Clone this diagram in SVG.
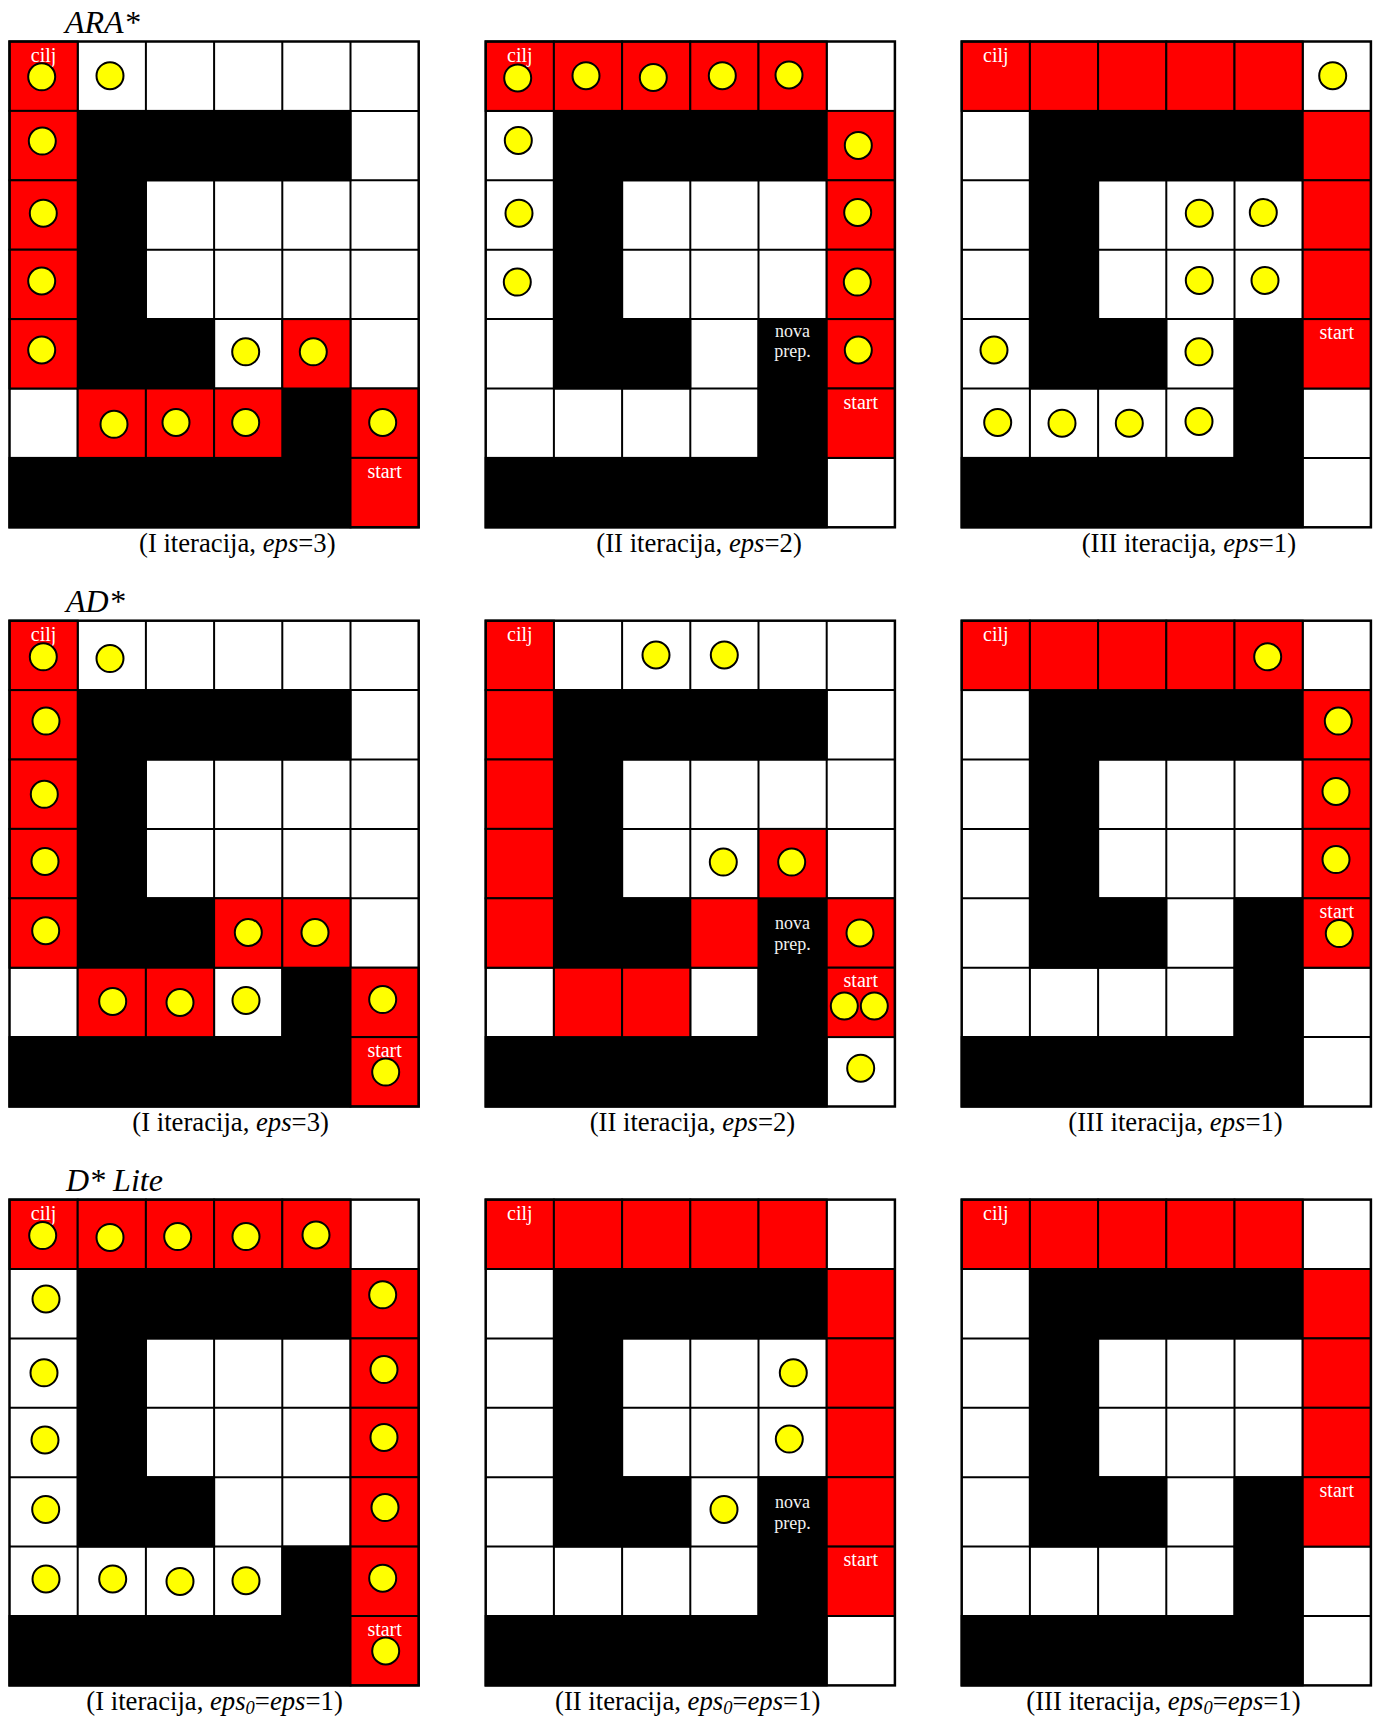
<svg xmlns="http://www.w3.org/2000/svg" width="1384" height="1719" viewBox="0 0 1384 1719">
<style>
.r{fill:#ff0000;stroke:#000;stroke-width:2}
.bk{fill:#000;stroke:#000;stroke-width:2}
.d{fill:#ffff00;stroke:#000;stroke-width:2}
.gl{fill:none;stroke:#000;stroke-width:2}
.bd{fill:none;stroke:#000;stroke-width:2.5}
.lbl{font-family:"Liberation Serif","Times New Roman",serif;font-size:20px;fill:#fff;text-anchor:middle}
.np{font-family:"Liberation Serif","Times New Roman",serif;font-size:18px;fill:#f2f2f2;text-anchor:middle}
.cap{font-family:"Liberation Serif","Times New Roman",serif;font-size:26.7px;fill:#000}
.ttl{font-family:"Liberation Serif","Times New Roman",serif;font-size:32px;font-style:italic;fill:#000}
.it{font-style:italic}
</style>
<defs>
<rect id="R" width="68.2" height="69.4" class="r"/>
<rect id="K" x="272.8" y="277.6" width="68.2" height="69.4" class="bk"/>
<circle id="D" r="13.5" class="d"/>
<g id="base">
<rect x="0" y="0" width="409.2" height="485.8" fill="#fff"/>
<path class="gl" d="M68.2 0V485.8M136.4 0V485.8M204.6 0V485.8M272.8 0V485.8M341 0V485.8M0 69.4H409.2M0 138.8H409.2M0 208.2H409.2M0 277.6H409.2M0 347H409.2M0 416.4H409.2"/>
<rect class="bk" x="68.2" y="69.4" width="272.8" height="69.4"/>
<rect class="bk" x="68.2" y="138.8" width="68.2" height="138.8"/>
<rect class="bk" x="68.2" y="277.6" width="136.4" height="69.4"/>
<rect class="bk" x="272.8" y="347" width="68.2" height="69.4"/>
<rect class="bk" x="0" y="416.4" width="341" height="69.4"/>
</g>
</defs>

<text class="ttl" x="65" y="32.5">ARA*</text>
<text class="ttl" x="66" y="611.5">AD*</text>
<text class="ttl" x="66" y="1190.5">D* Lite</text>

<g id="ara1">
<g transform="translate(9.5,41.5)">
<use href="#base"/>
<use href="#R" x="0" y="0"/><use href="#R" x="0" y="69.4"/><use href="#R" x="0" y="138.8"/><use href="#R" x="0" y="208.2"/><use href="#R" x="0" y="277.6"/>
<use href="#R" x="272.8" y="277.6"/>
<use href="#R" x="68.2" y="347"/><use href="#R" x="136.4" y="347"/><use href="#R" x="204.6" y="347"/><use href="#R" x="341" y="347"/>
<use href="#R" x="341" y="416.4"/>
<rect class="bd" width="409.2" height="485.8"/>
<text class="lbl" x="34.1" y="20">cilj</text>
<text class="lbl" x="375.1" y="436.4">start</text>
<use href="#D" x="32.2" y="35.3"/><use href="#D" x="100.5" y="34.2"/>
<use href="#D" x="32.8" y="99.6"/><use href="#D" x="33.8" y="171.7"/><use href="#D" x="32.2" y="239.5"/><use href="#D" x="32.2" y="308.5"/>
<use href="#D" x="236.2" y="310.3"/><use href="#D" x="303.8" y="310.3"/>
<use href="#D" x="104.5" y="382.8"/><use href="#D" x="166.5" y="381"/><use href="#D" x="236.2" y="381"/><use href="#D" x="373.2" y="381"/>
</g>
<text class="cap" x="139" y="552">(I iteracija, <tspan class="it">eps</tspan>=3)</text>
</g>

<g id="ara2">
<g transform="translate(485.7,41.5)">
<use href="#base"/>
<use href="#K"/>
<use href="#R" x="0" y="0"/><use href="#R" x="68.2" y="0"/><use href="#R" x="136.4" y="0"/><use href="#R" x="204.6" y="0"/><use href="#R" x="272.8" y="0"/>
<use href="#R" x="341" y="69.4"/><use href="#R" x="341" y="138.8"/><use href="#R" x="341" y="208.2"/><use href="#R" x="341" y="277.6"/><use href="#R" x="341" y="347"/>
<rect class="bd" width="409.2" height="485.8"/>
<text class="lbl" x="34.1" y="20">cilj</text>
<text class="lbl" x="375.1" y="367">start</text>
<text class="np" x="306.9" y="295.8">nova</text>
<text class="np" x="306.9" y="315.6">prep.</text>
<use href="#D" x="32" y="36.4"/><use href="#D" x="100.3" y="34.2"/><use href="#D" x="167.6" y="36"/><use href="#D" x="236.6" y="34.2"/><use href="#D" x="303.3" y="33.5"/>
<use href="#D" x="32.6" y="98.9"/><use href="#D" x="33.3" y="171.7"/><use href="#D" x="31.6" y="240.6"/>
<use href="#D" x="372.6" y="103.9"/><use href="#D" x="372" y="171"/><use href="#D" x="371.6" y="240.6"/><use href="#D" x="372.6" y="308.5"/>
</g>
<text class="cap" x="596.3" y="552">(II iteracija, <tspan class="it">eps</tspan>=2)</text>
</g>

<g id="ara3">
<g transform="translate(961.7,41.5)">
<use href="#base"/>
<use href="#K"/>
<use href="#R" x="0" y="0"/><use href="#R" x="68.2" y="0"/><use href="#R" x="136.4" y="0"/><use href="#R" x="204.6" y="0"/><use href="#R" x="272.8" y="0"/>
<use href="#R" x="341" y="69.4"/><use href="#R" x="341" y="138.8"/><use href="#R" x="341" y="208.2"/><use href="#R" x="341" y="277.6"/>
<rect class="bd" width="409.2" height="485.8"/>
<text class="lbl" x="34.1" y="20">cilj</text>
<text class="lbl" x="375.1" y="297.6">start</text>
<use href="#D" x="371" y="34.2"/>
<use href="#D" x="237.6" y="171.7"/><use href="#D" x="301.6" y="171"/>
<use href="#D" x="237.6" y="238.9"/><use href="#D" x="303.3" y="238.9"/>
<use href="#D" x="32.3" y="308.5"/><use href="#D" x="237.3" y="310.3"/>
<use href="#D" x="36" y="381"/><use href="#D" x="100.3" y="381.7"/><use href="#D" x="167.6" y="381.7"/><use href="#D" x="237.3" y="379.9"/>
</g>
<text class="cap" x="1081.7" y="552">(III iteracija, <tspan class="it">eps</tspan>=1)</text>
</g>

<g id="ad1">
<g transform="translate(9.5,620.7)">
<use href="#base"/>
<use href="#R" x="0" y="0"/><use href="#R" x="0" y="69.4"/><use href="#R" x="0" y="138.8"/><use href="#R" x="0" y="208.2"/><use href="#R" x="0" y="277.6"/>
<use href="#R" x="204.6" y="277.6"/><use href="#R" x="272.8" y="277.6"/>
<use href="#R" x="68.2" y="347"/><use href="#R" x="136.4" y="347"/><use href="#R" x="341" y="347"/>
<use href="#R" x="341" y="416.4"/>
<rect class="bd" width="409.2" height="485.8"/>
<text class="lbl" x="34.1" y="20">cilj</text>
<text class="lbl" x="375.1" y="436.4">start</text>
<use href="#D" x="33.8" y="36.1"/><use href="#D" x="100.5" y="37.9"/>
<use href="#D" x="36.5" y="100.4"/><use href="#D" x="34.8" y="173.6"/><use href="#D" x="35.5" y="240.7"/><use href="#D" x="36.2" y="310"/>
<use href="#D" x="238.8" y="311.8"/><use href="#D" x="305.5" y="311.8"/>
<use href="#D" x="103.2" y="380.7"/><use href="#D" x="170.5" y="381.8"/><use href="#D" x="236.5" y="379.7"/><use href="#D" x="373.2" y="378.9"/>
<use href="#D" x="376.2" y="451.4"/>
</g>
<text class="cap" x="132.3" y="1131">(I iteracija, <tspan class="it">eps</tspan>=3)</text>
</g>

<g id="ad2">
<g transform="translate(485.7,620.7)">
<use href="#base"/>
<use href="#K"/>
<use href="#R" x="0" y="0"/><use href="#R" x="0" y="69.4"/><use href="#R" x="0" y="138.8"/><use href="#R" x="0" y="208.2"/><use href="#R" x="0" y="277.6"/>
<use href="#R" x="272.8" y="208.2"/><use href="#R" x="204.6" y="277.6"/><use href="#R" x="341" y="277.6"/>
<use href="#R" x="68.2" y="347"/><use href="#R" x="136.4" y="347"/><use href="#R" x="341" y="347"/>
<rect class="bd" width="409.2" height="485.8"/>
<text class="lbl" x="34.1" y="20">cilj</text>
<text class="lbl" x="375.1" y="366.6">start</text>
<text class="np" x="306.9" y="308.1">nova</text>
<text class="np" x="306.9" y="329.6">prep.</text>
<use href="#D" x="170.3" y="34.3"/><use href="#D" x="238.6" y="34.3"/>
<use href="#D" x="237.6" y="241.4"/><use href="#D" x="306" y="241.4"/>
<use href="#D" x="374.3" y="312.2"/>
<use href="#D" x="358.6" y="385.3"/><use href="#D" x="388.6" y="385.3"/>
<use href="#D" x="375" y="447.5"/>
</g>
<text class="cap" x="589.7" y="1131">(II iteracija, <tspan class="it">eps</tspan>=2)</text>
</g>

<g id="ad3">
<g transform="translate(961.7,620.7)">
<use href="#base"/>
<use href="#K"/>
<use href="#R" x="0" y="0"/><use href="#R" x="68.2" y="0"/><use href="#R" x="136.4" y="0"/><use href="#R" x="204.6" y="0"/><use href="#R" x="272.8" y="0"/>
<use href="#R" x="341" y="69.4"/><use href="#R" x="341" y="138.8"/><use href="#R" x="341" y="208.2"/><use href="#R" x="341" y="277.6"/>
<rect class="bd" width="409.2" height="485.8"/>
<text class="lbl" x="34.1" y="20">cilj</text>
<text class="lbl" x="375.1" y="297">start</text>
<use href="#D" x="306" y="36.1"/>
<use href="#D" x="376.6" y="100.4"/><use href="#D" x="374.3" y="170.7"/><use href="#D" x="374.3" y="238.9"/><use href="#D" x="377.6" y="312.9"/>
</g>
<text class="cap" x="1068.3" y="1131">(III iteracija, <tspan class="it">eps</tspan>=1)</text>
</g>

<g id="dlite1">
<g transform="translate(9.5,1199.6)">
<use href="#base"/>
<use href="#R" x="0" y="0"/><use href="#R" x="68.2" y="0"/><use href="#R" x="136.4" y="0"/><use href="#R" x="204.6" y="0"/><use href="#R" x="272.8" y="0"/>
<use href="#R" x="341" y="69.4"/><use href="#R" x="341" y="138.8"/><use href="#R" x="341" y="208.2"/><use href="#R" x="341" y="277.6"/><use href="#R" x="341" y="347"/><use href="#R" x="341" y="416.4"/>
<rect class="bd" width="409.2" height="485.8"/>
<text class="lbl" x="34.1" y="20">cilj</text>
<text class="lbl" x="375.1" y="436.4">start</text>
<use href="#D" x="33.2" y="36"/><use href="#D" x="100.5" y="37.8"/><use href="#D" x="168.2" y="37"/><use href="#D" x="236.5" y="37"/><use href="#D" x="306.5" y="35.3"/>
<use href="#D" x="36.5" y="99.4"/><use href="#D" x="34.5" y="173.2"/><use href="#D" x="35.5" y="240.3"/><use href="#D" x="36.2" y="309.8"/>
<use href="#D" x="36.5" y="379.3"/><use href="#D" x="103.2" y="379.3"/><use href="#D" x="170.5" y="381.8"/><use href="#D" x="236.5" y="381.1"/>
<use href="#D" x="373.2" y="95.2"/><use href="#D" x="374.5" y="170"/><use href="#D" x="374.5" y="237.8"/><use href="#D" x="375.5" y="308"/><use href="#D" x="373.2" y="378.6"/><use href="#D" x="376.2" y="451.3"/>
</g>
<text class="cap" x="86.3" y="1710">(I iteracija, <tspan class="it">eps</tspan><tspan class="it" font-size="18.5" dy="4">0</tspan><tspan dy="-4">=</tspan><tspan class="it">eps</tspan>=1)</text>
</g>

<g id="dlite2">
<g transform="translate(485.7,1199.6)">
<use href="#base"/>
<use href="#K"/>
<use href="#R" x="0" y="0"/><use href="#R" x="68.2" y="0"/><use href="#R" x="136.4" y="0"/><use href="#R" x="204.6" y="0"/><use href="#R" x="272.8" y="0"/>
<use href="#R" x="341" y="69.4"/><use href="#R" x="341" y="138.8"/><use href="#R" x="341" y="208.2"/><use href="#R" x="341" y="277.6"/><use href="#R" x="341" y="347"/>
<rect class="bd" width="409.2" height="485.8"/>
<text class="lbl" x="34.1" y="20">cilj</text>
<text class="lbl" x="375.1" y="366.8">start</text>
<text class="np" x="306.9" y="308">nova</text>
<text class="np" x="306.9" y="329.4">prep.</text>
<use href="#D" x="307.6" y="173.2"/><use href="#D" x="303.6" y="239.5"/><use href="#D" x="238.3" y="309.8"/>
</g>
<text class="cap" x="555" y="1710">(II iteracija, <tspan class="it">eps</tspan><tspan class="it" font-size="18.5" dy="4">0</tspan><tspan dy="-4">=</tspan><tspan class="it">eps</tspan>=1)</text>
</g>

<g id="dlite3">
<g transform="translate(961.7,1199.6)">
<use href="#base"/>
<use href="#K"/>
<use href="#R" x="0" y="0"/><use href="#R" x="68.2" y="0"/><use href="#R" x="136.4" y="0"/><use href="#R" x="204.6" y="0"/><use href="#R" x="272.8" y="0"/>
<use href="#R" x="341" y="69.4"/><use href="#R" x="341" y="138.8"/><use href="#R" x="341" y="208.2"/><use href="#R" x="341" y="277.6"/>
<rect class="bd" width="409.2" height="485.8"/>
<text class="lbl" x="34.1" y="20">cilj</text>
<text class="lbl" x="375.1" y="297.4">start</text>
</g>
<text class="cap" x="1026.3" y="1710">(III iteracija, <tspan class="it">eps</tspan><tspan class="it" font-size="18.5" dy="4">0</tspan><tspan dy="-4">=</tspan><tspan class="it">eps</tspan>=1)</text>
</g>
</svg>
